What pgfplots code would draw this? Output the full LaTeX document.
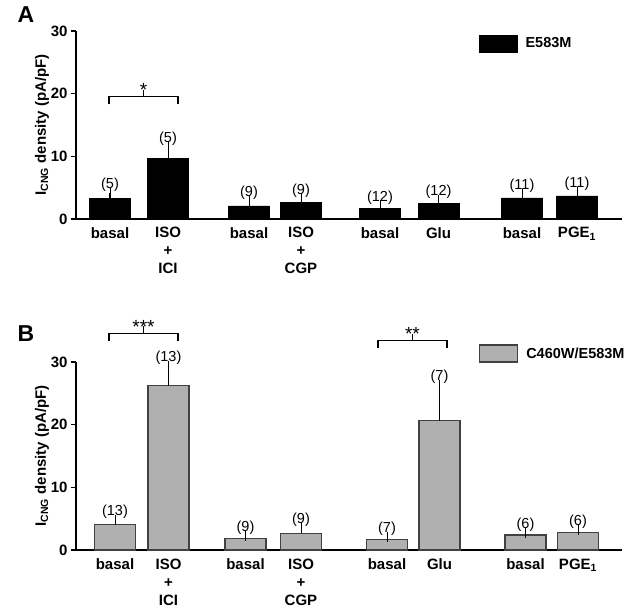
\documentclass[border=0pt]{standalone}
\usepackage{pgfplots}
\pgfplotsset{compat=1.18}
\usepackage{pgfplotstable}
\usepackage{fontspec}
\setmainfont{Liberation Sans}
\definecolor{barB}{RGB}{176,176,176}
\definecolor{edgeB}{RGB}{65,65,65}

\pgfplotstableread{
x y e n
110 3.3 0.9 (5)
168 9.7 1.8 (5)
249 2.1 0.8 (9)
301 2.6 0.6 (9)
380 1.75 0.45 (12)
438.5 2.55 0.45 (12)
522 3.35 0.65 (11)
577 3.7 0.6 (11)
}\dataA

\pgfplotstableread{
x y e n
115 4.0 0.8 (13)
168.5 26.2 3.2 (13)
245.5 1.8 0.5 (9)
301 2.65 0.9 (9)
387 1.7 0.4 (7)
439.5 20.6 5.7 (7)
525.5 2.4 0.35 (6)
578 2.75 0.45 (6)
}\dataB

\tikzset{starlab/.style={font=\fontsize{19}{20}\selectfont, anchor=base, yshift=-7pt}}

\pgfplotsset{panel/.style={
  scale only axis, width=546pt, height=188pt,
  xmin=76, xmax=622, ymin=0, ymax=30, ytick={0,10,20,30},
  axis x line=bottom, axis y line=left,
  axis line style={line width=1.6pt,-},
  clip=false,
  tick align=outside, major tick length=5pt,
  ytick style={line width=1.2pt, black},
  xtick style={draw=none},
  /pgf/number format/assume math mode=true,
  yticklabel style={font=\bfseries\fontsize{15}{17}\selectfont},
  xticklabel style={font=\bfseries\fontsize{15}{18}\selectfont, align=center},
  ylabel={I\textsubscript{CNG} density (pA/pF)},
  ylabel style={font=\bfseries\fontsize{15}{17}\selectfont, at={(axis description cs:-0.0623,0.5)}, anchor=center},
  legend style={draw=none, fill=none, font=\bfseries\fontsize{14.5}{16}\selectfont, inner sep=0pt, anchor=west, /tikz/column sep=6pt},
  legend cell align=left,
},
errs/.style={error bars/.cd, y dir=plus, y explicit,
  error bar style={line width=1pt, black},
  error mark options={line width=1pt, mark size=5pt, black}},
nlab/.style={draw=none, mark=none, forget plot, nodes near coords, point meta=explicit symbolic,
  nodes near coords style={font=\fontsize{14.5}{16}\selectfont, anchor=south, inner sep=1pt, black}},
legbox/.style={legend image code/.code={\draw[##1] (0pt,-8.5pt) rectangle (38pt,8.5pt);}}
}

\begin{document}
\begin{tikzpicture}
\useasboundingbox (0,0) rectangle (635pt,612pt);
% Panel A
\begin{axis}[panel, at={(76pt,393pt)}, anchor=south west,
  xtick={110,168,249,301,380,438.5,522,577},
  xticklabels={basal,{ISO\\+\\ICI},basal,{ISO\\+\\CGP},basal,Glu,basal,PGE\textsubscript{1}},
  legend style={at={(axis description cs:0.738,0.933)}}]
\addplot[ybar, bar width=41, fill=black, draw=black, legbox, errs]
  table[x=x, y=y, y error=e] {\dataA};
\addlegendentry{E583M}
\addplot[nlab] table[x=x, y expr=\thisrow{y}+\thisrow{e}, meta=n] {\dataA};
\draw[line width=1.2pt] (axis cs:109,18.3) -- (axis cs:109,19.5) -- (axis cs:178,19.5) -- (axis cs:178,18.3);
\draw[line width=1.2pt] (axis cs:143.5,19.5) -- (axis cs:143.5,20.6);
\node[starlab] at (axis cs:143.5,20.6) {*};
\end{axis}
% Panel B
\begin{axis}[panel, at={(76pt,62pt)}, anchor=south west,
  xtick={115,168.5,245.5,301,387,439.5,525.5,578},
  xticklabels={basal,{ISO\\+\\ICI},basal,{ISO\\+\\CGP},basal,Glu,basal,PGE\textsubscript{1}},
  legend style={at={(axis description cs:0.738,1.045)}}]
\addplot[ybar, bar width=41, fill=barB, draw=edgeB, line width=1.1pt, legbox, errs]
  table[x=x, y=y, y error=e] {\dataB};
\addlegendentry{C460W/E583M}
\addplot[nlab] table[x=x, y expr=\thisrow{y}+\thisrow{e}, meta=n] {\dataB};
\draw[line width=1.2pt] (axis cs:109,33.4) -- (axis cs:109,34.6) -- (axis cs:178,34.6) -- (axis cs:178,33.4);
\draw[line width=1.2pt] (axis cs:143.5,34.6) -- (axis cs:143.5,35.7);
\node[starlab] at (axis cs:143.5,35.7) {***};
\draw[line width=1.2pt] (axis cs:378,32.3) -- (axis cs:378,33.4) -- (axis cs:447,33.4) -- (axis cs:447,32.3);
\draw[line width=1.2pt] (axis cs:412.5,33.4) -- (axis cs:412.5,34.5);
\node[starlab] at (axis cs:412.5,34.5) {**};
\end{axis}
\node[font=\bfseries\fontsize{23}{26}\selectfont] at (26pt,597pt) {A};
\node[font=\bfseries\fontsize{23}{26}\selectfont] at (26pt,278pt) {B};
\end{tikzpicture}
\end{document}
